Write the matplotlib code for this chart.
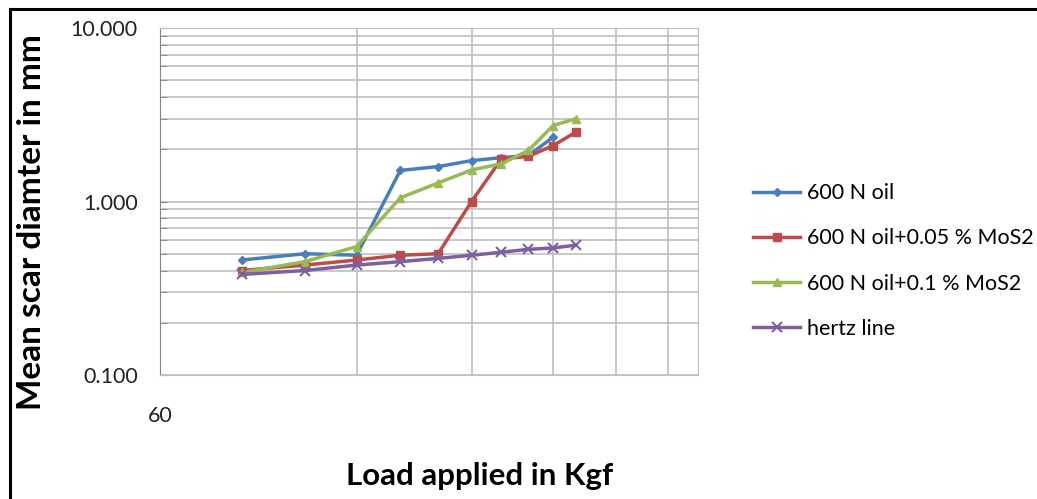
import matplotlib
matplotlib.use("Agg")
import numpy as np
from matplotlib import pyplot as plt
from matplotlib import ticker
from matplotlib.lines import Line2D

plt.rcParams['font.family'] = ['Lato', 'DejaVu Sans']

# load (kgf) and mean scar diameter (mm)
load = [80, 100, 120, 140, 160, 180, 200, 220, 240, 260]
baseOil = [0.46, 0.50, 0.49, 1.51, 1.59, 1.72, 1.79, 1.84, 2.35]
mos2_005 = [0.40, 0.43, 0.46, 0.49, 0.50, 1.00, 1.76, 1.82, 2.10, 2.51]
mos2_01 = [0.39, 0.45, 0.55, 1.05, 1.28, 1.52, 1.65, 1.97, 2.74, 3.00]
hertz = [0.38, 0.40, 0.43, 0.45, 0.47, 0.49, 0.51, 0.53, 0.54, 0.56]

labels = ["600 N oil", "600 N oil+0.05 % MoS2", "600 N oil+0.1 % MoS2", "hertz line"]

W, H = 1037, 499
fig = plt.figure(figsize=(W / 100, H / 100), dpi=100)
ax = fig.add_axes([160 / W, 1 - 375 / H, (698 - 160) / W, (375 - 28) / H])

ax.plot(load[:len(baseOil)], baseOil, color="#4A7EBB", lw=2.5, marker="D", ms=4, label=labels[0])
ax.plot(load, mos2_005, color="#BE4B48", lw=2.5, marker="s", ms=6, label=labels[1])
ax.plot(load, mos2_01, color="#98B954", lw=2.5, marker="^", ms=6, label=labels[2])
ax.plot(load, hertz, color="#7D60A0", lw=2.5, marker="x", ms=7, mew=1.5, label=labels[3])

ax.set_xscale("log")
ax.set_yscale("log")
ax.set_xlim(60, 400)
ax.set_ylim(0.1, 10)

ax.xaxis.set_major_locator(ticker.FixedLocator([60]))
ax.xaxis.set_major_formatter(ticker.FormatStrFormatter("%d"))
ax.xaxis.set_minor_locator(ticker.MultipleLocator(60))
ax.xaxis.set_minor_formatter(ticker.NullFormatter())
ax.yaxis.set_major_locator(ticker.LogLocator(base=10))
ax.yaxis.set_major_formatter(ticker.FormatStrFormatter("%.3f"))
ax.yaxis.set_minor_locator(ticker.LogLocator(base=10, subs=np.arange(2, 10)))
ax.yaxis.set_minor_formatter(ticker.NullFormatter())

ax.grid(True, which="both", color="#BFBFBF", lw=1.2)
ax.set_axisbelow(True)
ax.tick_params(axis="x", which="both", length=0, pad=22, labelsize=15.5, labelcolor="#222222")
ax.tick_params(axis="y", which="both", direction="in", length=5, color="#868686",
               pad=16, labelsize=15.5, labelcolor="#222222")
for side in ["top", "right", "bottom"]:
    ax.spines[side].set_color("#BFBFBF")
ax.spines["left"].set_color("#868686")

fig.text(480 / W, 1 - 476 / H, "Load applied in Kgf", ha="center", va="center",
         fontsize=22.5, fontweight="bold")
fig.text(32 / W, 1 - 222 / H, "Mean scar diamter in mm", ha="center", va="center",
         rotation=90, fontsize=24, fontweight="bold")

fig.legend(loc="center left", bbox_to_anchor=(753 / W, 1 - 261 / H), frameon=False,
           fontsize=15.5, handlelength=2.2, handletextpad=0.3, labelspacing=1.17,
           borderpad=0, borderaxespad=0)

# outer frame (left and top edges)
fig.add_artist(Line2D([9.5 / W, 9.5 / W], [-0.1, 1 - 8.5 / H], color="black", lw=2.2,
                      transform=fig.transFigure))
fig.add_artist(Line2D([9.5 / W, 1.1], [1 - 8.5 / H, 1 - 8.5 / H], color="black", lw=2.2,
                      transform=fig.transFigure))

fig.savefig("out.png", dpi=100)
